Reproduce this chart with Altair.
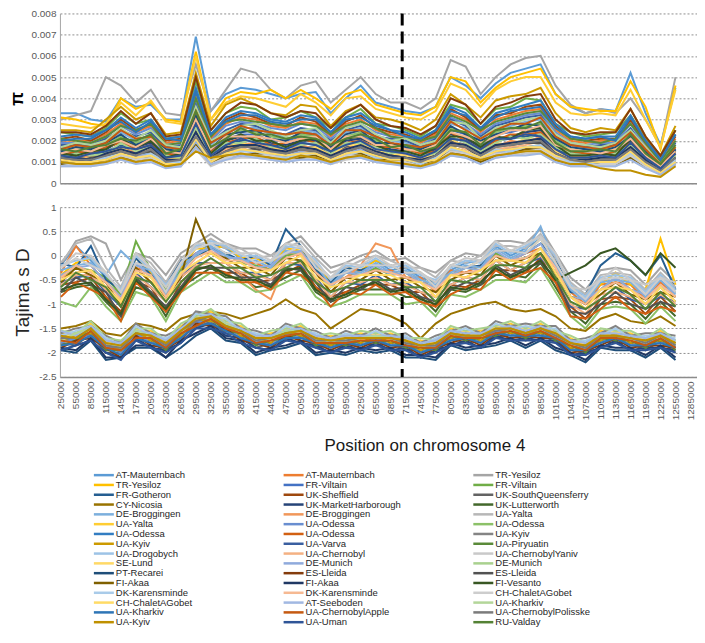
import altair as alt
import pandas as pd

# x categories (window start positions) and tick labels
POSITIONS = list(range(25000, 1255001, 30000))
TICKS = list(range(25000, 1285001, 30000))
BOUNDARY = 708000
PI_TICKS = [0, 0.001, 0.002, 0.003, 0.004, 0.005, 0.006, 0.007, 0.008]
TD_TICKS = [-2.5, -2, -1.5, -1, -0.5, 0, 0.5, 1]

NAMES = ["AT-Mauternbach", "AT-Mauternbach", "TR-Yesiloz", "TR-Yesiloz", "FR-Viltain", "FR-Viltain",
         "FR-Gotheron", "UK-Sheffield", "UK-SouthQueensferry", "CY-Nicosia", "UK-MarketHarborough", "UK-Lutterworth",
         "DE-Broggingen", "DE-Broggingen", "UA-Yalta", "UA-Yalta", "UA-Odessa", "UA-Odessa",
         "UA-Odessa", "UA-Odessa", "UA-Kyiv", "UA-Kyiv", "UA-Varva", "UA-Piryuatin",
         "UA-Drogobych", "UA-Chernobyl", "UA-ChernobylYaniv", "SE-Lund", "DE-Munich", "DE-Munich",
         "PT-Recarei", "ES-Lleida", "ES-Lleida", "FI-Akaa", "FI-Akaa", "FI-Vesanto",
         "DK-Karensminde", "DK-Karensminde", "CH-ChaletAGobet", "CH-ChaletAGobet", "AT-Seeboden", "UA-Kharkiv",
         "UA-Kharkiv", "UA-ChernobylApple", "UA-ChernobylPolisske", "UA-Kyiv", "UA-Uman", "RU-Valday"]

COLORS = ["#5B9BD5", "#ED7D31", "#A5A5A5", "#FFC000", "#4472C4", "#70AD47",
          "#255E91", "#9E480E", "#636363", "#997300", "#264478", "#43682B",
          "#7CAFDD", "#F1975A", "#B7B7B7", "#FFCD33", "#698ED0", "#8CC168",
          "#327DC2", "#D26012", "#848484", "#CC9A00", "#3A5FA0", "#5A8A39",
          "#9DC3E6", "#F4B183", "#C9C9C9", "#FFD966", "#8FAADC", "#A9D18E",
          "#1F4E79", "#843C0C", "#525252", "#7F6000", "#203864", "#385723",
          "#A9CBE9", "#F6B992", "#CDCDCD", "#FFDB66", "#A1B8E2", "#B3D699",
          "#2E75B6", "#C55A11", "#7B7B7B", "#BF9000", "#2F5597", "#548235"]

# nucleotide diversity pi, in units of 0.0001
PI_01 = [33,33,30,29,40,36,37,30,30,69,34,42,45,44,42,40,42,43,33,40,46,38,36,34,33,36,50,46,40,47,52,54,56,42,36,33,35,34,52,33,18,45]
PI_02 = [20,20,20,23,28,24,27,19,20,41,21,28,31,30,27,26,29,28,22,28,30,25,23,22,19,23,33,30,24,30,32,34,35,25,20,19,20,20,29,18,11,21]
PI_03 = [30,32,34,50,46,38,44,33,32,56,34,44,54,52,44,40,46,48,38,44,50,42,38,38,35,40,58,55,42,50,56,59,60,46,37,33,35,33,40,30,17,50]
PI_04 = [31,30,28,27,40,35,38,30,29,62,30,40,43,42,44,40,44,40,35,42,44,37,35,33,32,36,50,48,38,45,50,52,54,42,36,35,34,34,48,36,16,46]
PI_05 = [15,15,15,17,21,18,20,14,15,31,16,21,23,23,20,20,22,21,17,21,23,19,17,17,14,17,25,23,18,23,24,26,26,19,15,14,15,15,22,14,8,16]
PI_06 = [24,23,22,26,33,28,30,21,22,48,25,33,36,35,30,31,34,31,26,31,35,28,27,25,22,27,37,35,28,35,36,40,39,28,24,22,23,24,32,21,12,25]
PI_07 = [13,13,13,15,18,16,18,12,13,27,14,18,20,20,18,17,19,18,14,18,20,16,15,14,12,15,21,20,16,20,21,22,23,16,13,12,13,13,19,12,7,14]
PI_08 = [21,22,20,24,30,25,28,20,21,44,22,30,33,31,28,27,31,29,23,29,32,26,24,23,20,24,35,31,25,32,33,36,37,27,21,20,21,21,30,19,12,22]
PI_09 = [12,12,12,14,17,14,16,11,12,25,13,17,19,18,16,16,17,17,13,17,18,15,14,13,11,14,20,18,14,18,19,20,21,15,12,11,12,12,17,11,7,13]
PI_10 = [10,10,10,12,14,12,14,10,10,21,11,14,16,15,14,13,15,14,11,14,15,13,12,11,10,12,17,15,12,15,16,17,18,13,10,10,10,10,15,9,6,11]
PI_11 = [14,14,14,16,20,17,19,13,14,29,15,20,22,21,19,18,20,20,15,20,21,18,16,15,13,16,23,21,17,21,22,24,25,18,14,13,14,14,20,13,8,15]
PI_12 = [11,11,11,13,15,13,15,10,11,23,12,15,17,17,15,14,16,15,12,15,17,14,13,12,10,13,18,17,13,17,18,19,19,14,11,10,11,11,16,10,6,12]
PI_13 = [17,17,17,20,24,20,23,16,17,35,18,24,26,26,23,22,25,24,19,24,26,21,20,19,16,20,28,26,20,26,27,29,30,21,17,16,17,17,25,15,9,18]
PI_14 = [11,13,12,13,16,15,15,12,11,24,13,16,18,19,17,15,18,16,14,16,19,14,13,14,12,13,19,18,15,17,20,19,22,14,13,12,11,13,16,11,6,12]
PI_15 = [9,9,9,10,13,11,12,9,9,18,9,13,14,14,12,12,13,13,10,13,14,11,10,10,9,10,15,14,11,14,14,15,16,11,9,9,9,9,13,8,5,9]
PI_16 = [28,27,26,28,38,32,39,29,28,60,30,38,41,40,38,36,42,38,32,40,41,35,33,31,30,34,47,44,36,44,48,50,50,38,33,32,33,32,44,30,17,44]
PI_17 = [19,19,19,22,27,23,26,18,19,39,20,27,29,28,26,25,28,27,21,27,28,24,22,21,18,22,31,28,23,28,30,32,33,24,19,18,19,19,28,17,10,20]
PI_18 = [16,16,16,18,22,19,22,15,16,33,17,22,25,24,22,21,23,22,18,22,24,20,18,18,15,18,26,24,19,24,26,27,28,20,16,15,16,16,23,14,9,17]
PI_19 = [22,23,22,25,31,26,30,21,22,45,23,31,34,33,30,29,32,31,24,31,33,28,25,24,21,25,36,33,26,33,35,37,39,28,22,21,22,22,32,20,12,23]
PI_20 = [13,15,14,17,19,16,18,14,13,28,15,19,21,22,18,19,21,19,16,19,20,17,17,16,14,15,24,20,16,20,23,23,24,17,15,14,13,15,19,12,7,14]
PI_21 = [10,11,10,11,15,12,13,9,10,20,11,15,15,16,13,14,14,15,11,15,15,12,12,11,9,11,16,15,12,15,17,16,18,12,11,9,10,11,14,9,5,10]
PI_22 = [25,25,24,30,36,30,33,23,24,52,27,37,40,37,33,32,37,36,27,34,37,31,30,28,25,30,42,37,31,39,41,42,45,33,26,24,26,25,35,22,13,27]
PI_23 = [18,18,18,21,25,22,24,17,18,37,19,25,28,27,24,23,26,25,20,25,27,22,21,20,17,21,30,27,22,27,29,31,32,22,18,17,18,18,26,16,10,19]
PI_24 = [21,20,19,22,27,25,28,18,19,40,22,29,30,29,28,27,28,27,23,27,29,26,22,21,20,22,32,29,25,29,31,33,34,26,21,20,19,21,28,19,10,20]
PI_25 = [9,9,8,10,12,10,12,8,8,19,10,12,14,13,12,11,13,12,10,12,13,11,10,9,8,10,14,13,11,13,15,15,15,11,9,8,9,9,13,8,5,10]
PI_26 = [10,12,11,12,16,12,14,11,10,22,12,16,16,18,14,15,15,16,11,16,16,15,12,13,11,12,19,16,14,16,17,18,20,13,12,11,10,12,15,9,6,11]
PI_27 = [8,8,8,9,11,10,11,8,8,16,8,11,12,12,11,10,12,11,9,11,12,10,9,9,8,9,13,12,10,12,13,14,14,10,8,8,8,8,12,7,5,8]
PI_28 = [12,11,12,14,17,13,17,11,12,26,12,17,19,17,16,16,16,17,13,18,18,16,14,13,11,14,21,17,14,19,18,21,20,15,12,11,12,11,18,10,7,13]
PI_29 = [9,10,11,12,13,13,14,9,9,20,10,13,16,14,14,13,15,13,11,14,16,13,11,11,10,12,17,14,13,14,16,17,17,13,10,10,9,10,15,9,6,10]
PI_30 = [12,14,13,14,19,15,17,13,12,26,14,19,19,21,17,17,18,19,14,19,19,17,14,15,13,14,22,19,15,19,22,21,23,17,14,13,12,14,18,11,7,13]
PI_31 = [15,17,16,19,23,18,21,16,15,32,16,23,24,25,21,20,24,23,17,23,25,19,19,17,16,19,27,23,20,23,25,28,27,21,17,16,15,17,22,15,8,16]
PI_32 = [24,24,23,27,34,28,33,22,23,50,25,33,38,37,33,31,34,33,26,33,37,30,27,26,23,27,40,37,28,36,38,41,42,30,24,23,24,24,35,22,13,25]
PI_33 = [11,10,12,13,14,14,15,10,11,24,11,15,18,16,16,14,16,15,12,15,17,13,13,12,10,13,18,17,12,18,18,19,19,14,11,10,11,10,16,10,6,12]
PI_34 = [9,10,9,11,12,11,12,8,9,18,9,13,13,14,12,12,12,13,10,12,14,11,11,10,9,11,15,13,10,13,14,16,16,11,9,9,9,9,12,8,5,9]
PI_35 = [12,12,11,14,16,14,17,11,11,24,12,17,18,18,16,15,17,16,13,16,18,15,13,12,11,13,19,18,14,18,19,20,21,14,11,11,12,12,17,11,6,12]
PI_36 = [14,13,15,16,21,17,20,12,14,30,14,20,23,20,20,17,20,21,15,21,22,18,15,15,13,17,22,22,17,22,21,25,26,18,13,13,14,13,21,13,8,15]
PI_37 = [10,9,10,12,14,11,14,10,10,22,11,14,15,15,13,12,14,14,11,13,15,12,12,11,9,12,16,15,12,16,15,17,18,12,10,9,10,10,14,9,5,11]
PI_38 = [14,16,15,18,20,17,21,15,14,30,16,22,22,22,21,19,21,22,16,22,22,18,18,16,15,18,24,22,19,22,25,25,27,18,16,15,14,16,21,13,8,15]
PI_39 = [8,9,9,10,13,11,12,9,8,17,9,12,14,13,13,11,13,12,10,13,13,11,10,10,8,10,15,14,11,14,14,15,16,12,9,8,9,9,13,8,4,9]
PI_40 = [11,10,10,11,14,12,13,9,9,21,10,14,16,15,14,13,14,14,11,14,15,13,11,11,10,11,17,15,12,15,16,17,17,13,11,10,10,10,15,9,5,10]
PI_41 = [8,8,8,9,11,9,10,7,8,17,9,11,13,12,11,10,11,11,9,12,12,10,9,8,7,9,13,12,9,12,13,13,14,10,8,8,8,8,11,7,4,9]
PI_42 = [17,19,18,20,26,21,25,18,17,36,20,24,27,28,25,22,25,26,19,26,28,23,20,21,18,20,29,28,21,26,28,30,31,23,19,18,17,19,25,17,9,18]
PI_43 = [20,21,21,25,29,24,29,21,20,43,23,29,32,32,29,28,30,30,24,30,31,27,25,22,21,25,34,32,26,31,34,35,36,26,22,21,22,20,31,20,11,23]
PI_44 = [16,18,17,19,25,21,22,17,16,34,19,23,27,25,24,23,24,23,18,25,25,22,19,18,17,19,29,25,21,25,28,28,31,22,18,17,16,18,24,16,9,17]
PI_45 = [12,11,11,13,15,13,16,10,11,22,12,15,17,17,15,14,16,15,12,15,17,14,12,12,10,13,18,17,13,17,18,19,20,14,11,10,11,11,16,10,6,12]
PI_46 = [10,9,9,10,12,10,11,8,9,15,12,13,14,13,12,11,13,12,10,12,13,11,10,9,8,10,14,13,11,13,14,15,15,11,9,9,7,6,6,4,3,8]
PI_47 = [13,12,14,15,17,16,18,12,13,28,13,18,21,19,18,16,19,18,15,18,20,16,15,14,12,15,21,20,16,21,21,23,22,16,12,12,13,12,19,12,7,14]
PI_48 = [16,15,17,18,21,20,23,14,16,34,17,21,26,23,23,21,22,21,18,21,23,21,17,18,15,17,25,24,18,25,26,26,29,19,15,15,16,15,23,14,9,18]

# Tajima's D, in units of 0.01
TD_01 = [-20,20,-10,-45,-75,-15,-25,-60,-15,5,25,15,-5,-15,-10,5,20,-25,-45,-35,-20,-10,-30,-25,-45,-55,-30,-15,-10,20,0,15,35,-15,-65,-90,-50,-45,-50,-70,-55,-75]
TD_02 = [-35,20,-20,-55,-85,-25,-35,-85,-25,5,5,5,-15,-15,-30,5,0,-35,-55,-45,-30,-30,-30,-45,-45,-75,-30,-35,-20,0,-10,5,15,-25,-75,-100,-60,-55,-60,-90,-55,-85]
TD_03 = [-20,30,40,25,-50,5,-5,-40,5,25,45,25,15,15,0,25,40,5,-25,-15,0,10,-10,-5,-25,-35,-10,5,0,30,30,25,55,5,-45,-70,-30,-25,-30,-60,-25,-55]
TD_04 = [-40,-15,-5,-35,-85,-5,-35,-65,-25,15,15,20,-5,-5,-20,15,10,-15,-55,-25,-30,-10,-20,-35,-35,-65,-20,-25,-10,10,10,5,35,-15,-65,-80,-60,-35,-60,-70,35,-60]
TD_05 = [-170,-175,-150,-190,-190,-165,-165,-190,-155,-140,-125,-150,-155,-180,-170,-165,-155,-180,-175,-180,-170,-175,-170,-185,-185,-190,-160,-170,-165,-160,-150,-165,-150,-170,-180,-195,-165,-170,-170,-185,-165,-190]
TD_06 = [-45,-25,-30,-45,-80,30,-30,-70,-30,0,15,5,-15,-20,-30,0,5,-25,-65,-35,-40,-25,-40,-35,-55,-65,-40,-25,-30,5,-10,-5,15,-20,-85,-90,-70,-45,-70,-80,-65,-75]
TD_07 = [-15,-25,20,-50,-70,-5,-40,-60,-10,0,15,5,-10,0,-20,55,20,-30,-55,-25,-30,-20,-20,-35,-35,-65,-20,-25,-20,10,10,5,25,-5,-75,-80,-20,5,-10,-40,0,-70]
TD_08 = [-60,-55,-45,-85,-115,-55,-65,-115,-55,-25,-25,-35,-35,-55,-50,-35,-20,-65,-85,-75,-60,-60,-60,-75,-75,-105,-60,-65,-50,-30,-30,-35,-5,-55,-105,-130,-90,-85,-90,-120,-85,-115]
TD_09 = [-180,-185,-160,-200,-200,-175,-175,-200,-165,-150,-135,-160,-165,-190,-180,-175,-165,-190,-185,-190,-180,-185,-180,-195,-195,-200,-170,-180,-175,-170,-160,-175,-160,-180,-190,-205,-175,-180,-180,-195,-175,-200]
TD_10 = [-150,-145,-135,-160,-165,-140,-145,-155,-130,-120,-115,-120,-130,-120,-110,-90,-110,-120,-150,-130,-110,-115,-125,-140,-170,-140,-120,-110,-100,-95,-110,-115,-110,-125,-150,-155,-130,-120,-135,-140,-125,-145]
TD_11 = [-195,-185,-175,-200,-210,-170,-190,-195,-180,-150,-140,-165,-170,-190,-195,-170,-180,-185,-200,-185,-195,-180,-195,-190,-210,-195,-185,-175,-190,-165,-175,-170,-175,-175,-205,-200,-190,-175,-195,-190,-190,-195]
TD_12 = [-75,-65,-60,-95,-125,-65,-75,-125,-65,-45,-25,-45,-45,-65,-60,-45,-30,-75,-95,-85,-70,-70,-70,-85,-85,-115,-70,-75,-60,-40,-40,-45,-15,-65,-115,-140,-100,-95,-100,-130,-95,-125]
TD_13 = [-30,-20,-15,-40,10,-20,-30,-80,-20,0,20,0,-10,-10,-25,10,5,-20,-60,-30,-35,-15,-35,-30,-50,-60,-35,-20,-25,15,-5,10,60,-20,-70,-95,-55,-50,-55,-85,-50,-80]
TD_14 = [-45,-35,-30,-65,-95,-25,-55,-85,-45,-15,5,-15,-40,-70,-90,-15,0,-35,-75,-45,-20,25,15,-45,-55,-85,-40,-45,-30,-10,-10,-15,5,-35,-85,-110,-70,-65,-70,-100,-65,-95]
TD_15 = [-15,25,35,-25,-65,5,-15,-55,-5,15,35,15,15,-5,0,15,30,-5,-35,-25,-10,0,-10,-25,-25,-45,-10,-15,0,20,20,15,45,-5,-55,-80,-40,-35,-40,-70,-35,-65]
TD_16 = [-160,-165,-140,-180,-180,-155,-155,-180,-145,-130,-115,-140,-145,-170,-160,-155,-145,-170,-165,-170,-160,-165,-160,-175,-175,-180,-150,-160,-155,-150,-140,-155,-140,-160,-170,-185,-155,-160,-160,-175,-155,-180]
TD_17 = [-180,-170,-165,-185,-200,-160,-180,-185,-170,-135,-135,-145,-170,-175,-185,-160,-170,-175,-190,-175,-185,-170,-185,-180,-200,-185,-175,-165,-180,-155,-165,-160,-165,-165,-195,-190,-180,-165,-185,-180,-180,-185]
TD_18 = [-95,-105,-65,-105,-135,-75,-85,-135,-75,-55,-35,-55,-55,-75,-70,-55,-40,-85,-105,-95,-80,-80,-80,-100,-95,-125,-80,-85,-70,-50,-50,-55,-25,-75,-125,-150,-110,-105,-110,-140,-105,-135]
TD_19 = [-165,-165,-150,-175,-185,-155,-160,-180,-150,-125,-125,-140,-150,-170,-165,-155,-150,-170,-170,-170,-165,-165,-165,-175,-180,-180,-155,-160,-160,-150,-145,-155,-145,-160,-175,-185,-160,-160,-165,-175,-160,-180]
TD_20 = [-85,-55,-70,-85,-135,-55,-85,-115,-75,-35,-35,-35,-55,-55,-70,-35,-40,-65,-105,-75,-80,-60,-80,-75,-95,-105,-80,-65,-70,-30,-50,-35,-25,-55,-125,-130,-110,-85,-110,-120,-105,-115]
TD_21 = [-160,-150,-145,-165,-180,-140,-160,-165,-150,-115,-120,-125,-150,-155,-165,-140,-150,-155,-170,-155,-165,-150,-165,-160,-180,-165,-155,-145,-160,-135,-145,-140,-145,-145,-175,-170,-160,-145,-165,-160,-160,-165]
TD_22 = [-175,-165,-160,-180,-195,-155,-175,-180,-165,-130,-135,-140,-165,-170,-180,-155,-165,-170,-185,-170,-180,-165,-180,-175,-195,-180,-170,-160,-175,-150,-160,-155,-160,-160,-190,-185,-175,-160,-180,-175,-175,-180]
TD_23 = [-55,-45,-40,-75,-105,-35,-65,-95,-45,-15,-15,-15,-35,-35,-50,-15,-20,-45,-85,-55,-60,-40,-60,-55,-75,-85,-60,-45,-50,-10,-30,-15,-5,-35,-105,-110,-90,-65,-90,-100,-85,-95]
TD_24 = [-185,-175,-155,-195,-195,-170,-170,-195,-160,-145,-130,-155,-160,-185,-175,-170,-160,-185,-180,-185,-175,-180,-175,-190,-190,-195,-165,-175,-170,-165,-155,-170,-155,-175,-185,-200,-170,-175,-175,-190,-170,-195]
TD_25 = [-20,-10,-5,-40,-70,0,-30,-60,-20,20,30,20,0,0,-15,20,15,-10,-50,-20,-25,-5,-25,-20,-40,-50,-25,-10,-15,25,5,20,40,0,-60,-85,-45,-40,-45,-75,-40,-70]
TD_26 = [-60,-40,-40,-70,-100,-40,-65,-95,-45,-20,-15,-15,-35,-40,-50,-15,-15,-50,-85,-55,-55,-45,-60,-60,-75,-85,-60,-45,-50,-10,-30,-15,0,-40,-100,-120,-80,-75,-85,-100,-80,-100]
TD_27 = [-25,5,0,-35,-75,5,-25,-65,-15,25,25,25,5,5,-10,25,20,-15,-45,-15,-20,0,-20,-15,-35,-55,-20,-5,-10,30,10,25,40,5,-65,-70,-50,-25,-50,-60,-45,-55]
TD_28 = [-170,-160,-155,-175,-190,-150,-170,-175,-160,-125,-130,-135,-160,-165,-175,-150,-160,-165,-180,-165,-175,-160,-175,-170,-190,-175,-165,-155,-170,-145,-155,-150,-155,-155,-185,-180,-170,-155,-175,-170,-170,-175]
TD_29 = [-40,-25,-20,-55,-85,-15,-45,-75,-35,5,15,-5,-5,-25,-20,5,10,-35,-65,-35,-40,-20,-40,-35,-55,-65,-40,-25,-30,10,-10,5,25,-25,-85,-90,-70,-45,-70,-80,-65,-75]
TD_30 = [-155,-160,-135,-170,-175,-150,-150,-175,-140,-125,-110,-135,-140,-165,-155,-150,-140,-165,-160,-165,-155,-160,-155,-170,-170,-175,-145,-155,-150,-145,-135,-150,-135,-155,-165,-180,-150,-155,-155,-170,-150,-175]
TD_31 = [-195,-200,-175,-215,-210,-190,-190,-210,-190,-165,-150,-175,-180,-205,-195,-190,-180,-205,-200,-205,-195,-200,-195,-210,-210,-215,-185,-195,-190,-185,-175,-190,-175,-195,-205,-220,-190,-195,-195,-210,-190,-215]
TD_32 = [-190,-175,-170,-190,-210,-165,-185,-190,-175,-140,-145,-150,-175,-180,-190,-165,-175,-180,-195,-180,-190,-175,-190,-185,-205,-190,-180,-170,-185,-160,-170,-165,-170,-170,-200,-195,-185,-170,-190,-185,-185,-190]
TD_33 = [-75,-45,-60,-75,-125,-45,-75,-105,-65,-25,-25,-25,-45,-45,-60,-25,-30,-55,-95,-65,-70,-50,-70,-65,-85,-95,-70,-55,-60,-20,-40,-25,-15,-45,-115,-120,-100,-75,-100,-110,-95,-105]
TD_34 = [-55,-25,-40,-55,-105,-25,-55,-85,-45,75,5,-5,-25,-25,-40,-5,-10,-35,-75,-45,-50,-30,-50,-45,-65,-75,-50,-35,-40,0,-20,-5,5,-35,-85,-100,-80,-55,-80,-90,-75,-85]
TD_35 = [-190,-195,-170,-210,-210,-185,-185,-210,-175,-160,-145,-170,-175,-200,-190,-185,-175,-200,-195,-200,-190,-195,-190,-205,-205,-210,-180,-190,-185,-180,-170,-185,-170,-190,-200,-215,-185,-190,-190,-205,-185,-210]
TD_36 = [-70,-60,-55,-90,-120,-50,-80,-110,-70,-30,-20,-40,-50,-50,-65,-30,-25,-70,-90,-80,-65,-55,-75,-70,-90,-100,-65,-70,-55,-25,-45,-30,-10,-50,-35,-20,5,15,-10,-40,5,-25]
TD_37 = [-165,-155,-145,-170,-185,-145,-165,-170,-155,-120,-125,-130,-155,-160,-170,-145,-155,-160,-175,-160,-170,-155,-170,-165,-185,-170,-160,-150,-165,-140,-150,-145,-150,-150,-180,-175,-165,-150,-170,-165,-165,-170]
TD_38 = [-45,-20,-35,-55,-90,-30,-40,-85,-40,-5,10,-10,-10,-25,-30,-5,5,-35,-60,-45,-40,-30,-35,-45,-55,-70,-40,-35,-30,0,-10,-5,15,-25,-85,-100,-70,-55,-70,-90,-60,-85]
TD_39 = [-25,-5,-20,-35,-75,-15,-25,-75,-15,15,25,5,5,-15,-10,5,20,-25,-45,-35,-20,-20,-20,-35,-35,-65,-20,-25,-10,10,10,5,35,-15,-65,-90,-50,-45,-50,-80,-45,-75]
TD_40 = [-50,-35,-30,-65,-95,-35,-45,-95,-35,-15,5,-15,-15,-35,-30,-15,0,-45,-65,-55,-40,-40,-40,-55,-55,-85,-40,-45,-30,-10,-10,-15,15,-35,-85,-110,-70,-65,-70,-100,-65,-95]
TD_41 = [-155,-165,-145,-175,-180,-155,-160,-175,-150,-130,-120,-140,-150,-165,-165,-155,-150,-165,-170,-165,-165,-165,-165,-170,-180,-175,-155,-160,-160,-150,-145,-155,-145,-160,-175,-180,-160,-160,-165,-170,-160,-175]
TD_42 = [-175,-160,-150,-180,-190,-155,-165,-185,-155,-130,-125,-140,-155,-175,-170,-155,-155,-175,-175,-175,-170,-165,-170,-180,-185,-185,-160,-165,-165,-150,-150,-160,-150,-165,-180,-190,-165,-165,-170,-180,-165,-185]
TD_43 = [-185,-180,-165,-190,-205,-170,-180,-190,-170,-145,-140,-155,-170,-180,-185,-170,-170,-180,-190,-180,-185,-175,-185,-185,-200,-190,-175,-170,-180,-160,-165,-165,-165,-170,-195,-195,-180,-170,-185,-185,-180,-190]
TD_44 = [-175,-180,-155,-190,-195,-170,-170,-190,-160,-145,-130,-150,-160,-180,-175,-165,-160,-180,-180,-180,-175,-175,-175,-185,-190,-190,-165,-170,-170,-160,-155,-165,-155,-170,-185,-195,-170,-170,-175,-185,-170,-190]
TD_45 = [-170,-170,-150,-185,-190,-160,-165,-185,-155,-135,-125,-145,-155,-175,-170,-160,-155,-175,-175,-175,-170,-170,-170,-180,-185,-185,-160,-165,-165,-155,-150,-160,-150,-165,-180,-190,-165,-165,-170,-180,-165,-185]
TD_46 = [-165,-170,-150,-180,-185,-160,-165,-180,-155,-130,-125,-145,-155,-170,-170,-160,-155,-170,-175,-170,-170,-170,-170,-175,-185,-180,-160,-165,-165,-150,-150,-160,-150,-160,-180,-185,-165,-165,-170,-175,-165,-180]
TD_47 = [-195,-185,-175,-200,-215,-175,-190,-200,-180,-150,-150,-160,-180,-190,-195,-175,-180,-190,-200,-190,-195,-185,-195,-195,-210,-200,-185,-180,-190,-170,-175,-175,-175,-180,-205,-205,-190,-180,-195,-195,-190,-200]
TD_48 = [-65,-35,-50,-65,-105,-45,-55,-95,-55,-25,-5,-25,-25,-45,-40,-25,-10,-55,-75,-65,-50,-50,-50,-65,-65,-95,-50,-55,-40,-20,-20,-25,5,-45,-95,-110,-90,-65,-80,-110,-75,-105]

PI = [globals()[f"PI_{k:02d}"] for k in range(1, 49)]
TD = [globals()[f"TD_{k:02d}"] for k in range(1, 49)]
IDS = [f"s{k:02d}" for k in range(1, 49)]

rows = []
for k, sid in enumerate(IDS):
    for pos, p, d in zip(POSITIONS, PI[k], TD[k]):
        rows.append({"sid": sid, "pos": pos, "pi": p / 10000, "td": d / 100})
df = pd.DataFrame(rows)
rule_df = pd.DataFrame({"pos": [BOUNDARY]})

# legend entries, read row-wise in three columns as in the original figure
NCOL = 3
leg_df = pd.DataFrame({
    "sid": IDS,
    "name": NAMES,
    "col": [k % NCOL for k in range(len(IDS))],
    "row": [k // NCOL for k in range(len(IDS))],
})

W, HT, HB, GAP = 638, 170, 170, 24
LEG_W, LEG_H = 570, 162
xscale = alt.Scale(domain=[23000, 1298000], nice=False, zero=False)
cscale = alt.Scale(domain=IDS, range=COLORS)
color = alt.Color("sid:N", scale=cscale, legend=None)

top_x_axis = alt.Axis(labels=False, ticks=False, title=None, grid=False,
                      domainColor="#8c8c8c", domainWidth=1.5)
bot_x_axis = alt.Axis(values=TICKS, format="d", labelAngle=270, labelFontSize=10, ticks=False,
                      labelOverlap=False, grid=False, domainColor="#8c8c8c", domainWidth=1.5,
                      title="Position on chromosome 4", titleFontSize=17, titleX=365,
                      titleFontWeight="normal", titleColor="#1a1a1a", titlePadding=18)

top_lines = alt.Chart(df).mark_line(strokeWidth=2).encode(
    x=alt.X("pos:Q", scale=xscale, axis=top_x_axis),
    y=alt.Y("pi:Q", scale=alt.Scale(domain=[0, 0.008], nice=False),
            axis=alt.Axis(values=PI_TICKS, labelExpr="toString(datum.value)", title="π",
                          titleFontSize=18, titleFontWeight="bold", titleColor="#000000",
                          titlePadding=4)),
    color=color,
    detail="sid:N",
)
top_rule = alt.Chart(rule_df).mark_rule(color="#000000", strokeWidth=3, strokeDash=[12, 6]).encode(
    x=alt.X("pos:Q", scale=xscale, axis=top_x_axis), y=alt.value(0), y2=alt.value(HT + GAP)
)
top = alt.layer(top_lines, top_rule).properties(width=W, height=HT)

bot_lines = alt.Chart(df).mark_line(strokeWidth=2).encode(
    x=alt.X("pos:Q", scale=xscale, axis=bot_x_axis),
    y=alt.Y("td:Q", scale=alt.Scale(domain=[-2.5, 1], nice=False),
            axis=alt.Axis(values=TD_TICKS, labelExpr="toString(datum.value)", title="Tajima s D",
                          titleFontSize=19, titleFontWeight="normal", titleColor="#262626",
                          titlePadding=6)),
    color=color,
    detail="sid:N",
)
bot_rule = alt.Chart(rule_df).mark_rule(color="#000000", strokeWidth=3, strokeDash=[12, 6]).encode(
    x=alt.X("pos:Q", scale=xscale, axis=bot_x_axis), y=alt.value(0), y2=alt.value(HB)
)
bottom = alt.layer(bot_lines, bot_rule).properties(width=W, height=HB)

panels = alt.vconcat(top, bottom, spacing=GAP, bounds="flush")

# legend drawn as its own small chart
leg_x = alt.X("col:Q", scale=alt.Scale(domain=[0, NCOL], nice=False, zero=True), axis=None)
leg_y = alt.Y("row:O", scale=alt.Scale(padding=0.5), axis=None)
leg_sym = alt.Chart(leg_df).mark_rule(strokeWidth=2.5, xOffset=34, x2Offset=54).encode(
    x=leg_x, x2="col:Q", y=leg_y, color=color,
)
leg_txt = alt.Chart(leg_df).mark_text(align="left", baseline="middle", dx=56, fontSize=9.5,
                                      color="#262626").encode(
    x=leg_x, y=leg_y, text="name:N",
)
legend = alt.layer(leg_sym, leg_txt).properties(width=LEG_W, height=LEG_H)

chart = (
    alt.vconcat(panels, legend, spacing=14)
    .properties(padding={"left": 0, "top": 0, "right": 0, "bottom": 0})
    .configure(font="Liberation Sans")
    .configure_view(stroke=None)
    .configure_axis(labelColor="#595959", labelFontSize=10, gridColor="#8f8f8f",
                    gridDash=[2, 2], gridWidth=1, labelPadding=4)
    .configure_axisY(domain=True, domainColor="#a6a6a6", ticks=False, grid=True)
)

chart.save("out.html", embed_options={"renderer": "svg", "actions": False})
